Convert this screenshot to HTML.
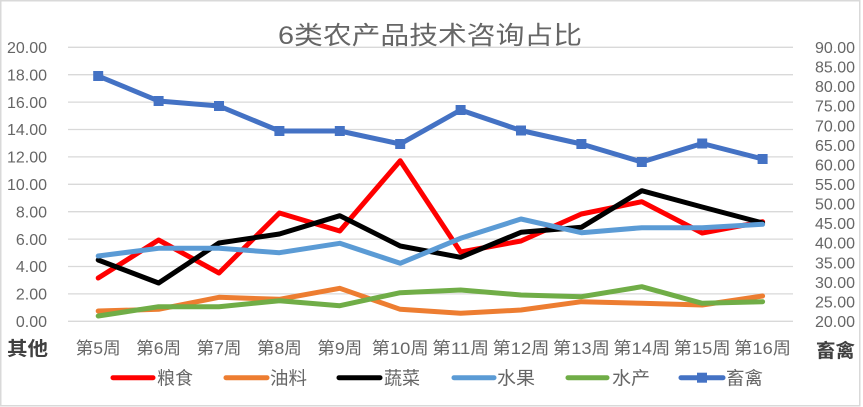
<!DOCTYPE html>
<html><head><meta charset="utf-8"><style>
html,body{margin:0;padding:0;background:#fff;}
svg{display:block;}
text{font-family:"Liberation Sans","Noto Sans CJK SC",sans-serif;fill:#666666;}
</style></head><body>
<svg width="863" height="407" viewBox="0 0 863 407" xmlns="http://www.w3.org/2000/svg">
<rect x="0" y="0" width="863" height="407" fill="#fff"/>
<rect x="0.75" y="0.75" width="859" height="405" fill="none" stroke="#d9d9d9" stroke-width="1.5"/>
<!-- gridlines -->
<g stroke="#d9d9d9" stroke-width="1.3">
<line x1="68" x2="793" y1="47.3" y2="47.3"/>
<line x1="68" x2="793" y1="74.7" y2="74.7"/>
<line x1="68" x2="793" y1="102.1" y2="102.1"/>
<line x1="68" x2="793" y1="129.5" y2="129.5"/>
<line x1="68" x2="793" y1="156.9" y2="156.9"/>
<line x1="68" x2="793" y1="184.3" y2="184.3"/>
<line x1="68" x2="793" y1="211.7" y2="211.7"/>
<line x1="68" x2="793" y1="239.1" y2="239.1"/>
<line x1="68" x2="793" y1="266.5" y2="266.5"/>
<line x1="68" x2="793" y1="293.9" y2="293.9"/>
<line x1="68" x2="793" y1="321.3" y2="321.3"/>
</g>
<!-- title -->
<text x="278" y="44" font-size="25" textLength="304" lengthAdjust="spacingAndGlyphs">6类农产品技术咨询占比</text>
<!-- left axis -->
<g font-size="16" text-anchor="end">
<text x="47" y="53">20.00</text>
<text x="47" y="80.4">18.00</text>
<text x="47" y="107.8">16.00</text>
<text x="47" y="135.2">14.00</text>
<text x="47" y="162.6">12.00</text>
<text x="47" y="190">10.00</text>
<text x="47" y="217.4">8.00</text>
<text x="47" y="244.8">6.00</text>
<text x="47" y="272.2">4.00</text>
<text x="47" y="299.6">2.00</text>
<text x="47" y="327">0.00</text>
</g>
<!-- right axis -->
<g font-size="16" text-anchor="end">
<text x="855" y="53">90.00</text>
<text x="855" y="72.6">85.00</text>
<text x="855" y="92.1">80.00</text>
<text x="855" y="111.7">75.00</text>
<text x="855" y="131.3">70.00</text>
<text x="855" y="150.9">65.00</text>
<text x="855" y="170.4">60.00</text>
<text x="855" y="190">55.00</text>
<text x="855" y="209.6">50.00</text>
<text x="855" y="229.1">45.00</text>
<text x="855" y="248.7">40.00</text>
<text x="855" y="268.3">35.00</text>
<text x="855" y="287.9">30.00</text>
<text x="855" y="307.4">25.00</text>
<text x="855" y="327">20.00</text>
</g>
<!-- axis titles -->
<text x="7" y="355" font-size="19" font-weight="bold" textLength="41" lengthAdjust="spacingAndGlyphs" style="fill:#404040">其他</text>
<text x="816" y="357" font-size="19" font-weight="bold" textLength="39" lengthAdjust="spacingAndGlyphs" style="fill:#404040">畜禽</text>
<!-- x labels -->
<g font-size="17" text-anchor="middle">
<text x="98.2" y="354" textLength="45" lengthAdjust="spacingAndGlyphs">第5周</text>
<text x="158.6" y="354" textLength="45" lengthAdjust="spacingAndGlyphs">第6周</text>
<text x="219" y="354" textLength="45" lengthAdjust="spacingAndGlyphs">第7周</text>
<text x="279.4" y="354" textLength="45" lengthAdjust="spacingAndGlyphs">第8周</text>
<text x="339.8" y="354" textLength="45" lengthAdjust="spacingAndGlyphs">第9周</text>
<text x="400.2" y="354" textLength="57" lengthAdjust="spacingAndGlyphs">第10周</text>
<text x="460.6" y="354" textLength="57" lengthAdjust="spacingAndGlyphs">第11周</text>
<text x="521" y="354" textLength="57" lengthAdjust="spacingAndGlyphs">第12周</text>
<text x="581.4" y="354" textLength="57" lengthAdjust="spacingAndGlyphs">第13周</text>
<text x="641.8" y="354" textLength="57" lengthAdjust="spacingAndGlyphs">第14周</text>
<text x="702.2" y="354" textLength="57" lengthAdjust="spacingAndGlyphs">第15周</text>
<text x="762.6" y="354" textLength="57" lengthAdjust="spacingAndGlyphs">第16周</text>
</g>
<!-- series -->
<g fill="none" stroke-width="5" stroke-linejoin="round" stroke-linecap="round">
<polyline stroke="#ff0000" points="98.2,278 158.6,240 219,273 279.4,213 339.8,231 400.2,160.7 460.6,252 521,241 581.4,214 641.8,201.7 702.2,233 762.6,221.7"/>
<polyline stroke="#ed7d31" points="98.2,311 158.6,309.3 219,297.3 279.4,299.3 339.8,288.3 400.2,309.3 460.6,313.3 521,310 581.4,301.7 641.8,303.3 702.2,305 762.6,296"/>
<polyline stroke="#000000" points="98.2,260 158.6,283 219,243 279.4,234 339.8,215.7 400.2,246 460.6,257.3 521,232.3 581.4,227.3 641.8,190.7 702.2,207 762.6,223"/>
<polyline stroke="#5b9bd5" points="98.2,256 158.6,248.3 219,248.3 279.4,252.7 339.8,243.3 400.2,263.3 460.6,238.3 521,219 581.4,232.7 641.8,227.7 702.2,227.7 762.6,224.3"/>
<polyline stroke="#70ad47" points="98.2,316 158.6,306.7 219,306.7 279.4,300.7 339.8,305.7 400.2,292.7 460.6,290 521,295 581.4,296.7 641.8,286.7 702.2,303.3 762.6,301.7"/>
<polyline stroke="#4472c4" points="98.2,76 158.6,101 219,106 279.4,131 339.8,131 400.2,144 460.6,110 521,130.5 581.4,144 641.8,162 702.2,143.5 762.6,159"/>
</g>
<g fill="#4472c4">
<rect x="93.2" y="71" width="10" height="10"/>
<rect x="153.6" y="96" width="10" height="10"/>
<rect x="214" y="101" width="10" height="10"/>
<rect x="274.4" y="126" width="10" height="10"/>
<rect x="334.8" y="126" width="10" height="10"/>
<rect x="395.2" y="139" width="10" height="10"/>
<rect x="455.6" y="105" width="10" height="10"/>
<rect x="516" y="125.5" width="10" height="10"/>
<rect x="576.4" y="139" width="10" height="10"/>
<rect x="636.8" y="157" width="10" height="10"/>
<rect x="697.2" y="138.5" width="10" height="10"/>
<rect x="757.6" y="154" width="10" height="10"/>
</g>
<!-- legend -->
<g stroke-width="5" stroke-linecap="round">
<line x1="113" x2="153" y1="377.7" y2="377.7" stroke="#ff0000"/>
<line x1="226" x2="267" y1="377.7" y2="377.7" stroke="#ed7d31"/>
<line x1="339" x2="380" y1="377.7" y2="377.7" stroke="#000000"/>
<line x1="454" x2="494" y1="377.7" y2="377.7" stroke="#5b9bd5"/>
<line x1="568" x2="607" y1="377.7" y2="377.7" stroke="#70ad47"/>
<line x1="681" x2="723" y1="377.7" y2="377.7" stroke="#4472c4"/>
</g>
<rect x="697" y="372.7" width="10" height="10" fill="#4472c4"/>
<g font-size="18">
<text x="157" y="384.5" textLength="36" lengthAdjust="spacingAndGlyphs">粮食</text>
<text x="270" y="384.5" textLength="37" lengthAdjust="spacingAndGlyphs">油料</text>
<text x="384" y="384.5" textLength="36" lengthAdjust="spacingAndGlyphs">蔬菜</text>
<text x="497" y="384.5" textLength="38" lengthAdjust="spacingAndGlyphs">水果</text>
<text x="612" y="384.5" textLength="38" lengthAdjust="spacingAndGlyphs">水产</text>
<text x="726" y="384.5" textLength="37" lengthAdjust="spacingAndGlyphs">畜禽</text>
</g>
</svg>
</body></html>
